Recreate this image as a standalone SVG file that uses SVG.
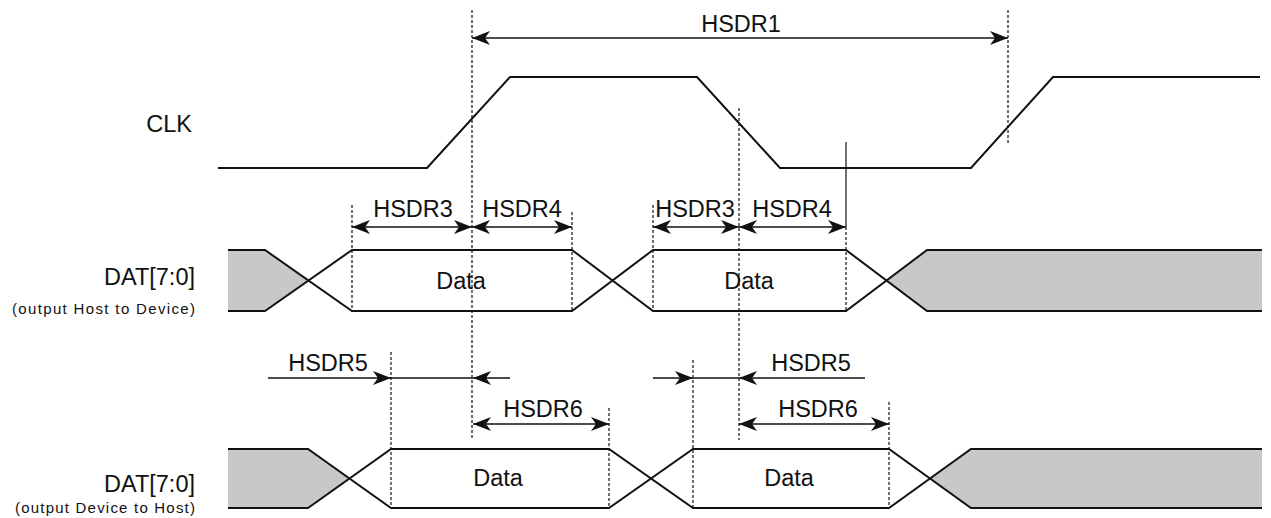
<svg xmlns="http://www.w3.org/2000/svg" width="1271" height="518" viewBox="0 0 1271 518">
<style>
.wave{fill:none;stroke:#111;stroke-width:2;stroke-linejoin:miter}
.gray{fill:#c8c8c8;stroke:none}
.dash{stroke:#111;stroke-width:1.2;stroke-dasharray:3,2;fill:none}
.thin{stroke:#111;stroke-width:1.2;fill:none}
.arr{stroke:#111;stroke-width:1.4;fill:none}
.lbl{font-family:"Liberation Sans",Arial,sans-serif;font-size:23.5px;fill:#111}
.sml{font-family:"Liberation Sans",Arial,sans-serif;font-size:15px;fill:#111}
</style>
<defs>
<marker id="ah" viewBox="-19 -8 20 16" refX="0" refY="0" markerWidth="20" markerHeight="16" markerUnits="userSpaceOnUse" orient="auto-start-reverse">
<path d="M0,0 L-18,-7 L-13,0 L-18,7 Z" fill="#111"/>
</marker>
</defs>
<rect width="1271" height="518" fill="#fff"/>
<g id="clk">
<path class="wave" d="M218,168 H427 L510,77 H697 L780,168 H971 L1053,77 H1260"/>
<text class="lbl" x="192" y="132" text-anchor="end">CLK</text>
</g>
<g id="dat-host">
<polygon class="gray" points="228,250 265,250 308.5,280.5 265,311 228,311"/>
<polygon class="gray" points="886.5,280.5 927,250 1262,250 1262,311 927,311"/>
<path class="wave" d="M228,250 H265 L352,311 H572 L653,250 H846 L927,311 H1262"/>
<path class="wave" d="M228,311 H265 L352,250 H572 L653,311 H846 L927,250 H1262"/>
<text class="lbl" x="461" y="289" text-anchor="middle">Data</text>
<text class="lbl" x="749" y="289" text-anchor="middle">Data</text>
<text class="lbl" x="195" y="285" text-anchor="end">DAT[7:0]</text>
<text class="sml" x="195" y="314" text-anchor="end" textLength="183" lengthAdjust="spacing">(output Host to Device)</text>
</g>
<g id="dat-device">
<polygon class="gray" points="228,449 308,449 349.5,478.5 308,508 228,508"/>
<polygon class="gray" points="930,478.5 971,449 1262,449 1262,508 971,508"/>
<path class="wave" d="M228,449 H308 L391,508 H609 L693,449 H889 L971,508 H1262"/>
<path class="wave" d="M228,508 H308 L391,449 H609 L693,508 H889 L971,449 H1262"/>
<text class="lbl" x="498" y="486" text-anchor="middle">Data</text>
<text class="lbl" x="789" y="486" text-anchor="middle">Data</text>
<text class="lbl" x="195" y="492" text-anchor="end">DAT[7:0]</text>
<text class="sml" x="195" y="513" text-anchor="end" textLength="180" lengthAdjust="spacing">(output Device to Host)</text>
</g>
<g id="guides">
<line class="dash" x1="472" y1="10" x2="472" y2="440"/>
<line class="dash" x1="1008" y1="10" x2="1008" y2="143"/>
<line class="dash" x1="739" y1="108" x2="739" y2="440"/>
<line class="dash" x1="352" y1="205" x2="352" y2="311"/>
<line class="dash" x1="572" y1="212" x2="572" y2="311"/>
<line class="dash" x1="653" y1="205" x2="653" y2="311"/>
<line class="thin" x1="846" y1="142" x2="846" y2="227"/>
<line class="dash" x1="846" y1="227" x2="846" y2="311"/>
<line class="dash" x1="391" y1="352" x2="391" y2="508"/>
<line class="dash" x1="693" y1="360" x2="693" y2="508"/>
<line class="dash" x1="609" y1="408" x2="609" y2="508"/>
<line class="dash" x1="889" y1="402" x2="889" y2="508"/>
</g>
<g id="connectors">
<line class="arr" x1="472" y1="38" x2="1008" y2="38" marker-start="url(#ah)" marker-end="url(#ah)"/>
<line class="arr" x1="352" y1="227" x2="472" y2="227" marker-start="url(#ah)" marker-end="url(#ah)"/>
<line class="arr" x1="472" y1="227" x2="572" y2="227" marker-start="url(#ah)" marker-end="url(#ah)"/>
<line class="arr" x1="653" y1="227" x2="739" y2="227" marker-start="url(#ah)" marker-end="url(#ah)"/>
<line class="arr" x1="739" y1="227" x2="846" y2="227" marker-start="url(#ah)" marker-end="url(#ah)"/>
<line class="arr" x1="268" y1="378" x2="391" y2="378" marker-end="url(#ah)"/>
<line class="arr" x1="391" y1="378" x2="473" y2="378"/>
<line class="arr" x1="510" y1="378" x2="473" y2="378" marker-end="url(#ah)"/>
<line class="arr" x1="653" y1="378" x2="693" y2="378" marker-end="url(#ah)"/>
<line class="arr" x1="693" y1="378" x2="739" y2="378"/>
<line class="arr" x1="865" y1="378" x2="739" y2="378" marker-end="url(#ah)"/>
<line class="arr" x1="473" y1="424" x2="609" y2="424" marker-start="url(#ah)" marker-end="url(#ah)"/>
<line class="arr" x1="739" y1="424" x2="889" y2="424" marker-start="url(#ah)" marker-end="url(#ah)"/>
</g>
<g id="labels">
<text class="lbl" x="741" y="32" text-anchor="middle">HSDR1</text>
<text class="lbl" x="413" y="217" text-anchor="middle">HSDR3</text>
<text class="lbl" x="522" y="217" text-anchor="middle">HSDR4</text>
<text class="lbl" x="695" y="217" text-anchor="middle">HSDR3</text>
<text class="lbl" x="792" y="217" text-anchor="middle">HSDR4</text>
<text class="lbl" x="328" y="371" text-anchor="middle">HSDR5</text>
<text class="lbl" x="811" y="371" text-anchor="middle">HSDR5</text>
<text class="lbl" x="543" y="417" text-anchor="middle">HSDR6</text>
<text class="lbl" x="818" y="417" text-anchor="middle">HSDR6</text>
</g>
</svg>
